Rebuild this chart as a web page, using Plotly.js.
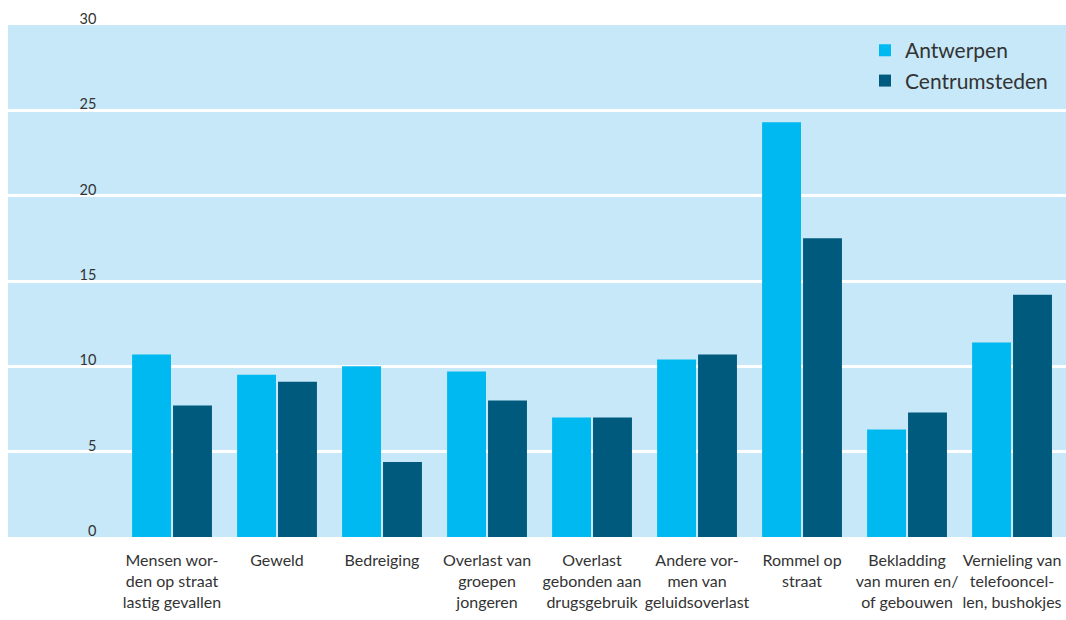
<!DOCTYPE html>
<html>
<head>
<meta charset="utf-8">
<script src="https://cdn.plot.ly/plotly-3.0.1.min.js"></script>
<style>html,body{margin:0;padding:0;background:#fff;}#chart{width:1066px;height:620px;}</style>
</head>
<body>
<div id="chart"></div>
<script>
const categories = [
  "Mensen wor-<br>den op straat<br>lastig gevallen",
  "Geweld",
  "Bedreiging",
  "Overlast van<br>groepen<br>jongeren",
  "Overlast<br>gebonden aan<br>drugsgebruik",
  "Andere vor-<br>men van<br>geluidsoverlast",
  "Rommel op<br>straat",
  "Bekladding<br>van muren en/<br>of gebouwen",
  "Vernieling van<br>telefooncel-<br>len, bushokjes"
];
const antwerpen = [10.7, 9.5, 10.0, 9.7, 7.0, 10.4, 24.3, 6.3, 11.4];
const centrumsteden = [7.7, 9.1, 4.4, 8.0, 7.0, 10.7, 17.5, 7.3, 14.2];
const yTicks = [0, 5, 10, 15, 20, 25, 30];
const seriesNames = ["Antwerpen", "Centrumsteden"];

const idx = categories.map((_, i) => i);
const data = [
  {type: 'bar', name: seriesNames[0], legendgroup: 'a', x: idx, y: antwerpen, marker: {color: '#00B9F0'}, hoverinfo: 'y'},
  {type: 'bar', name: seriesNames[1], legendgroup: 'b', x: idx, y: centrumsteden, marker: {color: '#005A7E'}, hoverinfo: 'y'}
];
const layout = {
  width: 1066, height: 620,
  margin: {l: 8, r: 0, t: 25, b: 83},
  paper_bgcolor: '#ffffff',
  plot_bgcolor: '#C6E8F8',
  font: {family: 'Lato, "Open Sans", sans-serif', color: '#333333', size: 16},
  barmode: 'group',
  bargap: 0.22,
  bargroupgap: 0.05,
  showlegend: true,
  legend: {x: 0.81, y: 0.99, xanchor: 'left', yanchor: 'top', bgcolor: 'rgba(0,0,0,0)',
           traceorder: 'grouped', tracegroupgap: 0,
           font: {size: 21, color: '#333333'}, itemwidth: 30},
  xaxis: {
    range: [-1.562, 8.514], tickmode: 'array', tickvals: idx, ticktext: categories,
    showgrid: false, zeroline: false, showline: false, ticks: '', ticklabelstandoff: 12,
    tickfont: {size: 16, color: '#333333'}, fixedrange: true
  },
  yaxis: {
    range: [0, 30], tickmode: 'array', tickvals: yTicks, ticktext: yTicks.map(String),
    anchor: 'free', position: 0.0835, ticklabelposition: 'outside top', ticklabelshift: 4,
    showgrid: true, gridcolor: '#ffffff', gridwidth: 3, zeroline: false, showline: false,
    ticks: '', tickfont: {size: 14.5, color: '#333333'}, fixedrange: true
  }
};
Plotly.newPlot('chart', data, layout, {displayModeBar: false, staticPlot: true});
</script>
</body>
</html>
